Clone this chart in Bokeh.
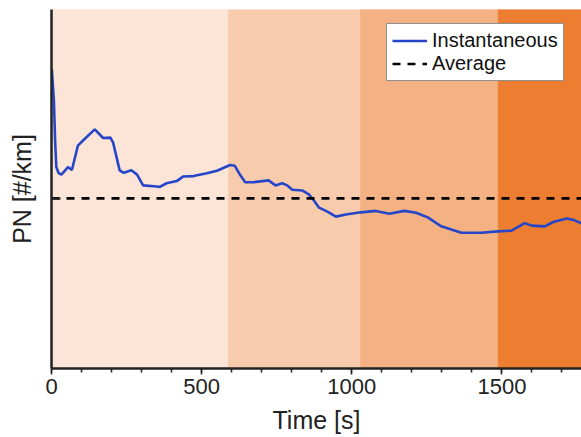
from bokeh.plotting import figure
from bokeh.models import Range1d, FixedTicker, Legend, LegendItem
from bokeh.embed import file_html
from bokeh.resources import INLINE

# Instantaneous PN trace (time in s, PN in arbitrary units)
time_s = [1, 8, 12, 16, 24, 33, 55, 68, 88, 105, 144, 172, 196, 205, 227, 241, 266, 285,
          305, 350, 361, 383, 417, 439, 473, 517, 551, 595, 610, 629, 645, 673, 723, 746,
          768, 785, 802, 835, 857, 874, 891, 919, 947, 980, 1030, 1080, 1125, 1175, 1214,
          1253, 1298, 1365, 1431, 1487, 1532, 1576, 1599, 1643, 1671, 1716, 1738, 1769]
pn_inst = [8.35, 7.47, 6.35, 5.61, 5.44, 5.40, 5.61, 5.53, 6.21, 6.35, 6.66, 6.42, 6.43, 6.30,
           5.52, 5.45, 5.52, 5.40, 5.10, 5.07, 5.06, 5.16, 5.22, 5.35, 5.36, 5.44, 5.51, 5.67,
           5.65, 5.38, 5.19, 5.19, 5.24, 5.10, 5.16, 5.10, 4.98, 4.96, 4.85, 4.68, 4.48, 4.37,
           4.23, 4.29, 4.35, 4.39, 4.31, 4.39, 4.34, 4.21, 3.96, 3.78, 3.78, 3.82, 3.84, 4.05,
           3.98, 3.96, 4.08, 4.18, 4.14, 4.03]
pn_avg = 4.74

# Phase bands
band_start = [0, 590, 1030, 1488]
band_end = [590, 1030, 1488, 1800]
band_colors = ["#FCE4D6", "#F8CBAD", "#F4B183", "#ED7D31"]

x_major_ticks = [0, 500, 1000, 1500]
x_minor_ticks = list(range(0, 1800, 100))

y_min, y_max = 0, 10

p = figure(width=581, height=437, output_backend="svg", toolbar_location=None,
           x_range=Range1d(0, 1765), y_range=Range1d(y_min, y_max))
p.min_border_left = 51
p.min_border_right = 0
p.min_border_top = 9
p.min_border_bottom = 69
p.outline_line_color = None
p.grid.visible = False
p.background_fill_color = "white"

p.quad(left=band_start, right=band_end, bottom=[y_min] * 4, top=[y_max] * 4,
       fill_color=band_colors, line_color=band_colors, line_width=1)

r_inst = p.line(time_s, pn_inst, line_color="#2546C8", line_width=2.6)
r_avg = p.line([0, 1800], [pn_avg, pn_avg], line_color="black", line_width=2.6,
               line_dash="8 7")

font = "Liberation Sans"
ax = p.xaxis[0]
ax.ticker = FixedTicker(ticks=x_major_ticks, minor_ticks=x_minor_ticks)
ax.axis_label = "Time [s]"
ax.axis_label_text_font = font
ax.axis_label_text_font_style = "normal"
ax.axis_label_text_font_size = "25px"
ax.axis_label_text_color = "#222222"
ax.axis_label_standoff = 9
ax.major_label_text_font = font
ax.major_label_text_font_size = "22px"
ax.major_label_text_color = "#222222"
ax.major_label_standoff = 4
ax.axis_line_width = 2.5
ax.axis_line_color = "#222222"
ax.major_tick_out = 6
ax.major_tick_in = 0
ax.minor_tick_out = 4
ax.minor_tick_in = 0
ax.major_tick_line_width = 1.5
ax.minor_tick_line_width = 1.5
ax.major_tick_line_color = "#222222"
ax.minor_tick_line_color = "#222222"

ay = p.yaxis[0]
ay.ticker = FixedTicker(ticks=[pn_avg], minor_ticks=[])
ay.major_label_overrides = {pn_avg: ""}
ay.axis_label = "PN [#/km]"
ay.axis_label_text_font = font
ay.axis_label_text_font_style = "normal"
ay.axis_label_text_font_size = "25px"
ay.axis_label_text_color = "#222222"
ay.axis_label_standoff = 16
ay.axis_line_width = 2.5
ay.axis_line_color = "#222222"
ay.major_tick_in = 9
ay.major_tick_out = 0
ay.major_tick_line_width = 2
ay.major_tick_line_color = "#222222"
ay.minor_tick_line_color = None

legend = Legend(items=[LegendItem(label="Instantaneous", renderers=[r_inst]),
                       LegendItem(label="Average", renderers=[r_avg])],
                location=(335, 287))
legend.label_text_font = font
legend.label_text_font_size = "20px"
legend.label_text_color = "#111111"
legend.glyph_width = 35
legend.glyph_height = 23
legend.label_height = 23
legend.label_standoff = 5
legend.spacing = 0
legend.padding = 5
legend.margin = 0
legend.border_line_color = "#222222"
legend.border_line_width = 1.5
legend.background_fill_color = "white"
legend.background_fill_alpha = 1
p.add_layout(legend)

open("out.html", "w").write(file_html(p, INLINE))
